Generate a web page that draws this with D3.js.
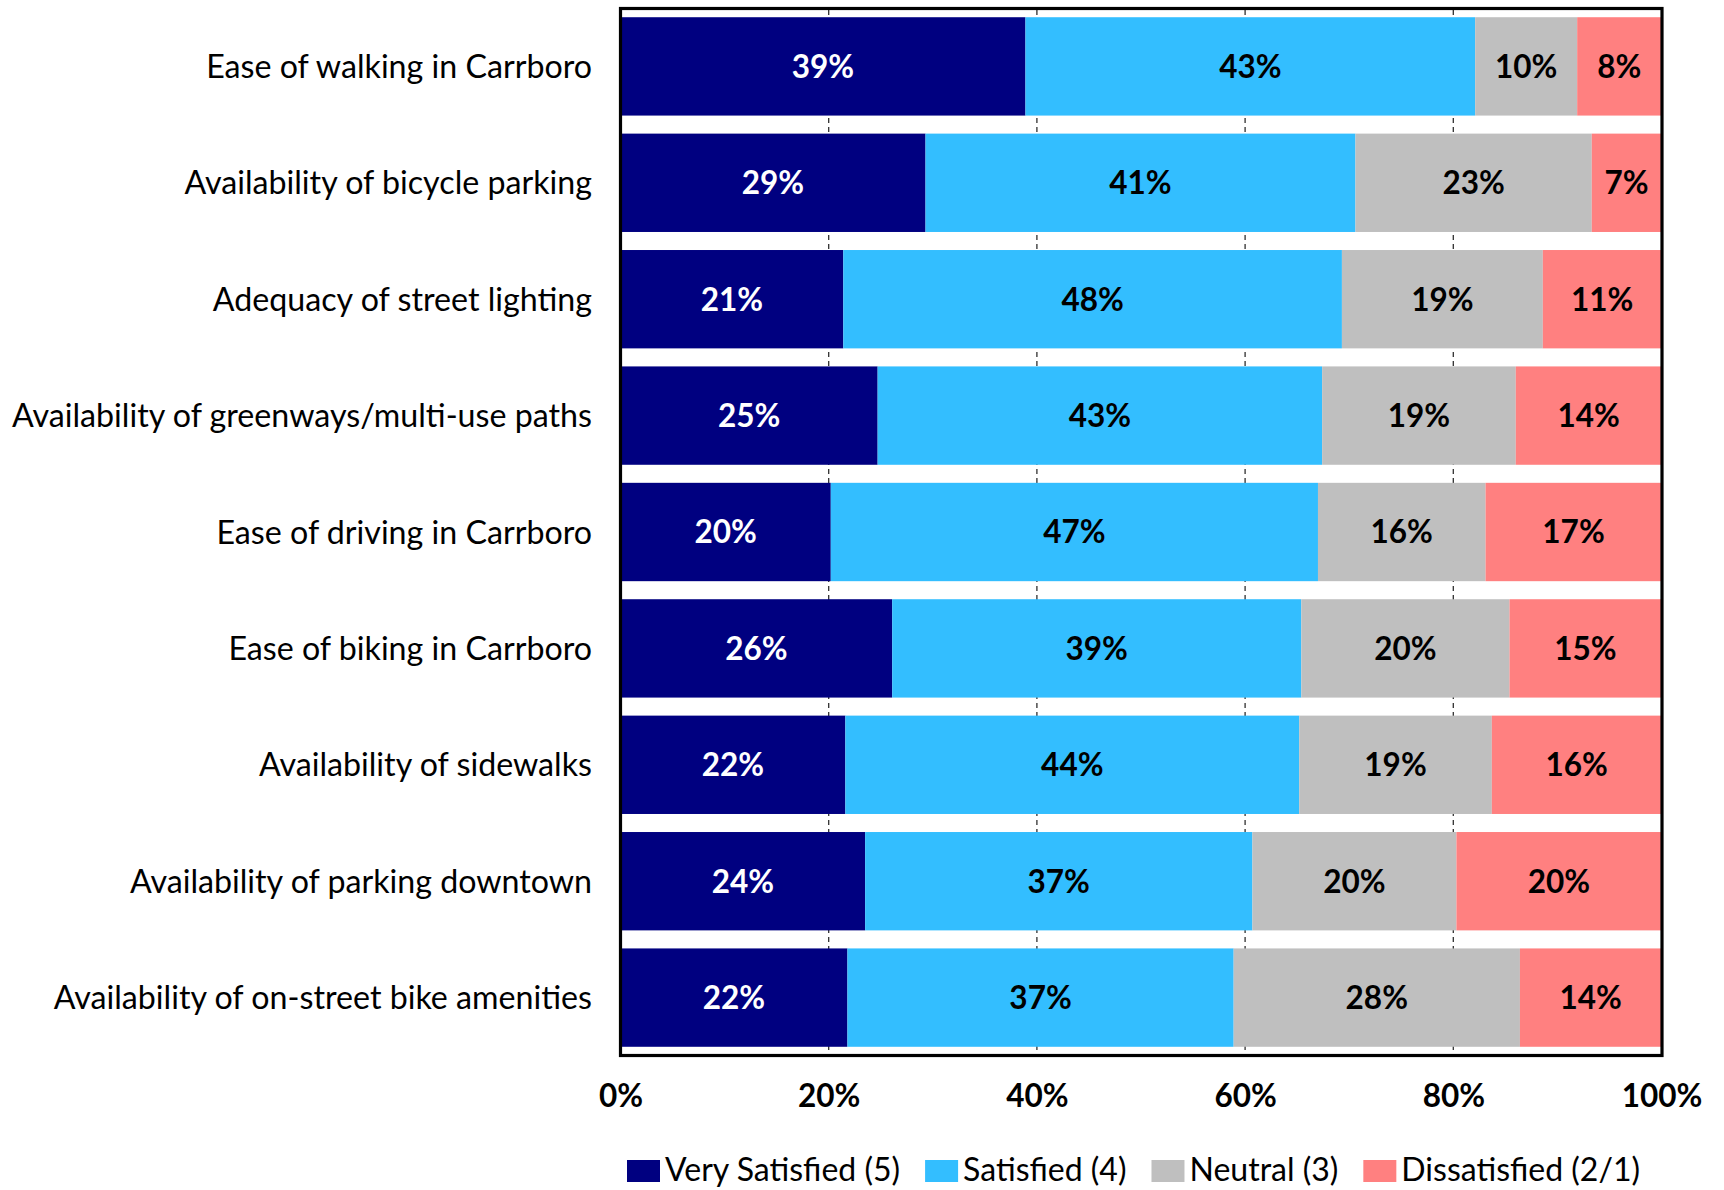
<!DOCTYPE html>
<html>
<head>
<meta charset="utf-8">
<script src="https://cdn.jsdelivr.net/npm/d3@7"></script>
<style>
  body { margin: 0; background: #fff; }
  svg text { font-family: Lato, "Open Sans", sans-serif; }
</style>
</head>
<body>
<svg id="chart" width="1724" height="1190"></svg>
<script>
// categories top to bottom
var categories = [
  "Ease of walking in Carrboro",
  "Availability of bicycle parking",
  "Adequacy of street lighting",
  "Availability of greenways/multi-use paths",
  "Ease of driving in Carrboro",
  "Ease of biking in Carrboro",
  "Availability of sidewalks",
  "Availability of parking downtown",
  "Availability of on-street bike amenities"
];

var seriesNames = ["Very Satisfied (5)", "Satisfied (4)", "Neutral (3)", "Dissatisfied (2/1)"];

// percentages per category
var verySatisfied = [38.9, 29.3, 21.4, 24.7, 20.2, 26.1, 21.6, 23.5, 21.8];
var satisfied     = [43.2, 41.3, 47.9, 42.7, 46.8, 39.3, 43.6, 37.2, 37.1];
var neutral       = [ 9.8, 22.7, 19.3, 18.6, 16.1, 20.0, 18.5, 19.6, 27.5];
var dissatisfied  = [ 8.1,  6.7, 11.4, 14.0, 16.9, 14.6, 16.3, 19.7, 13.6];

var tickValues = [0, 20, 40, 60, 80, 100];

var colors = ["#000080", "#33BEFF", "#BFBFBF", "#FF8080"];
var labelColors = ["#fff", "#000", "#000", "#000"];

var svg = d3.select("#chart");

var x = d3.scaleLinear().domain([0, 100]).range([620.5, 1661.5]);
var y = d3.scaleBand().domain(categories).range([10, 1054])
          .paddingInner(0.155).paddingOuter(0.062);

// table for the stack
var rows = categories.map(function(c, i){
  return {cat: c, s0: verySatisfied[i], s1: satisfied[i], s2: neutral[i], s3: dissatisfied[i]};
});
var stack = d3.stack().keys(["s0", "s1", "s2", "s3"])(rows);

// dashed gridlines
svg.append("g")
  .selectAll("line")
  .data(tickValues.slice(1, -1))
  .join("line")
    .attr("x1", function(d){ return x(d); })
    .attr("x2", function(d){ return x(d); })
    .attr("y1", 10)
    .attr("y2", 1054)
    .attr("stroke", "#303030")
    .attr("stroke-width", 1.3)
    .attr("stroke-dasharray", "5,4");

var layers = svg.append("g").selectAll("g")
  .data(stack)
  .join("g")
    .attr("fill", function(d, i){ return colors[i]; });

layers.selectAll("rect")
  .data(function(d){ return d; })
  .join("rect")
    .attr("x", function(d){ return x(d[0]); })
    .attr("width", function(d){ return x(d[1]) - x(d[0]); })
    .attr("y", function(d){ return y(d.data.cat); })
    .attr("height", y.bandwidth());

// value labels
stack.forEach(function(layer, li){
  svg.append("g").selectAll("text")
    .data(layer)
    .join("text")
      .attr("x", function(d){ return (x(d[0]) + x(d[1])) / 2; })
      .attr("y", function(d){ return y(d.data.cat) + y.bandwidth() / 2; })
      .attr("dy", "0.36em")
      .attr("text-anchor", "middle")
      .attr("font-size", 31.5)
      .attr("font-weight", "bold")
      .attr("fill", labelColors[li])
      .text(function(d){ return Math.round(d[1] - d[0]) + "%"; });
});

// plot frame
svg.append("rect")
  .attr("x", 620.5).attr("y", 8.5)
  .attr("width", 1041.5).attr("height", 1047)
  .attr("fill", "none")
  .attr("stroke", "#000")
  .attr("stroke-width", 3.2);

// category labels
svg.append("g").selectAll("text")
  .data(categories)
  .join("text")
    .attr("x", 592)
    .attr("y", function(d){ return y(d) + y.bandwidth() / 2; })
    .attr("dy", "0.36em")
    .attr("text-anchor", "end")
    .attr("font-size", 32.2)
    .attr("fill", "#000")
    .text(function(d){ return d; });

// x axis labels
var xAxis = d3.axisBottom(x)
  .tickValues(tickValues)
  .tickSize(0)
  .tickPadding(0)
  .tickFormat(function(d){ return d + "%"; });

var axisG = svg.append("g")
  .attr("transform", "translate(0,1084)")
  .call(xAxis);
axisG.select(".domain").remove();
axisG.selectAll("text")
  .attr("font-family", "Lato, sans-serif")
  .attr("font-size", 31.5)
  .attr("font-weight", "bold")
  .attr("fill", "#000")
  .attr("dy", "0.72em");

// legend
var legend = svg.append("g");
var lx = 627;
seriesNames.forEach(function(name, i){
  legend.append("rect")
    .attr("x", lx).attr("y", 1160)
    .attr("width", 33).attr("height", 22)
    .attr("fill", colors[i]);
  var t = legend.append("text")
    .attr("x", lx + 38)
    .attr("y", 1181)
    .attr("font-size", 32)
    .attr("fill", "#000")
    .text(name);
  lx = lx + 38 + t.node().getComputedTextLength() + 25;
});
</script>
</body>
</html>
